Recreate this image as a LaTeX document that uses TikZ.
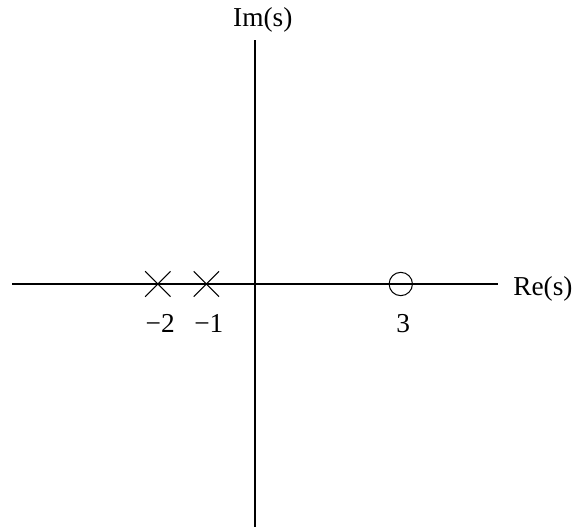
\documentclass[tikz,border=0pt]{standalone}
\usepackage{fontspec}
\setmainfont{Liberation Serif}
\usepackage{tikz}
\usetikzlibrary{positioning}
\usetikzlibrary{shapes.misc}
\tikzset{
  pzaxis/.style={draw=black, line width=0.8pt},
  pzpole/.style={
    draw, cross out, minimum size=0.5cm, inner sep=0pt, line width=0.6pt},
  pzzero/.style={
    draw, circle, minimum size=0.48cm, inner sep=0pt, line width=0.6pt},
  pztick/.style={font=\fontsize{16}{19}\selectfont, inner sep=0pt},
  pzlabel/.style={font=\fontsize{16}{19}\selectfont, inner sep=0pt},
}
\begin{document}
\begin{tikzpicture}
\useasboundingbox (-5.247, -5.0) rectangle (6.626, 5.844);

% Axes of the s-plane.
\coordinate (reL) at (-5, 0);
\coordinate (reR) at (5, 0);
\coordinate (imB) at (0, -5);
\coordinate (imT) at (0, 5.02);
\draw[pzaxis] (reL) -- (reR);
\draw[pzaxis] (imB) -- (imT);
\node[pzlabel, anchor=west] (re) at (5.31, -0.1) {Re(s)};
\node[pzlabel] (im) at (0.16, 5.43) {Im(s)};

% Poles at -2 and -1, zero at 3.
\foreach \p/\x in {2/-2, 1/-1} {
  \node[pzpole] (p\p) at (\x, 0) {};
  \node[pztick, anchor=north] (pl\p) at ([xshift=0.05cm, yshift=-0.35cm]p\p.south) {−\p};
}
\node[pzzero] (z3) at (3, 0) {};
\node[pztick, anchor=north] (zl3) at ([xshift=0.05cm, yshift=-0.36cm]z3.south) {3};

\end{tikzpicture}
\end{document}
